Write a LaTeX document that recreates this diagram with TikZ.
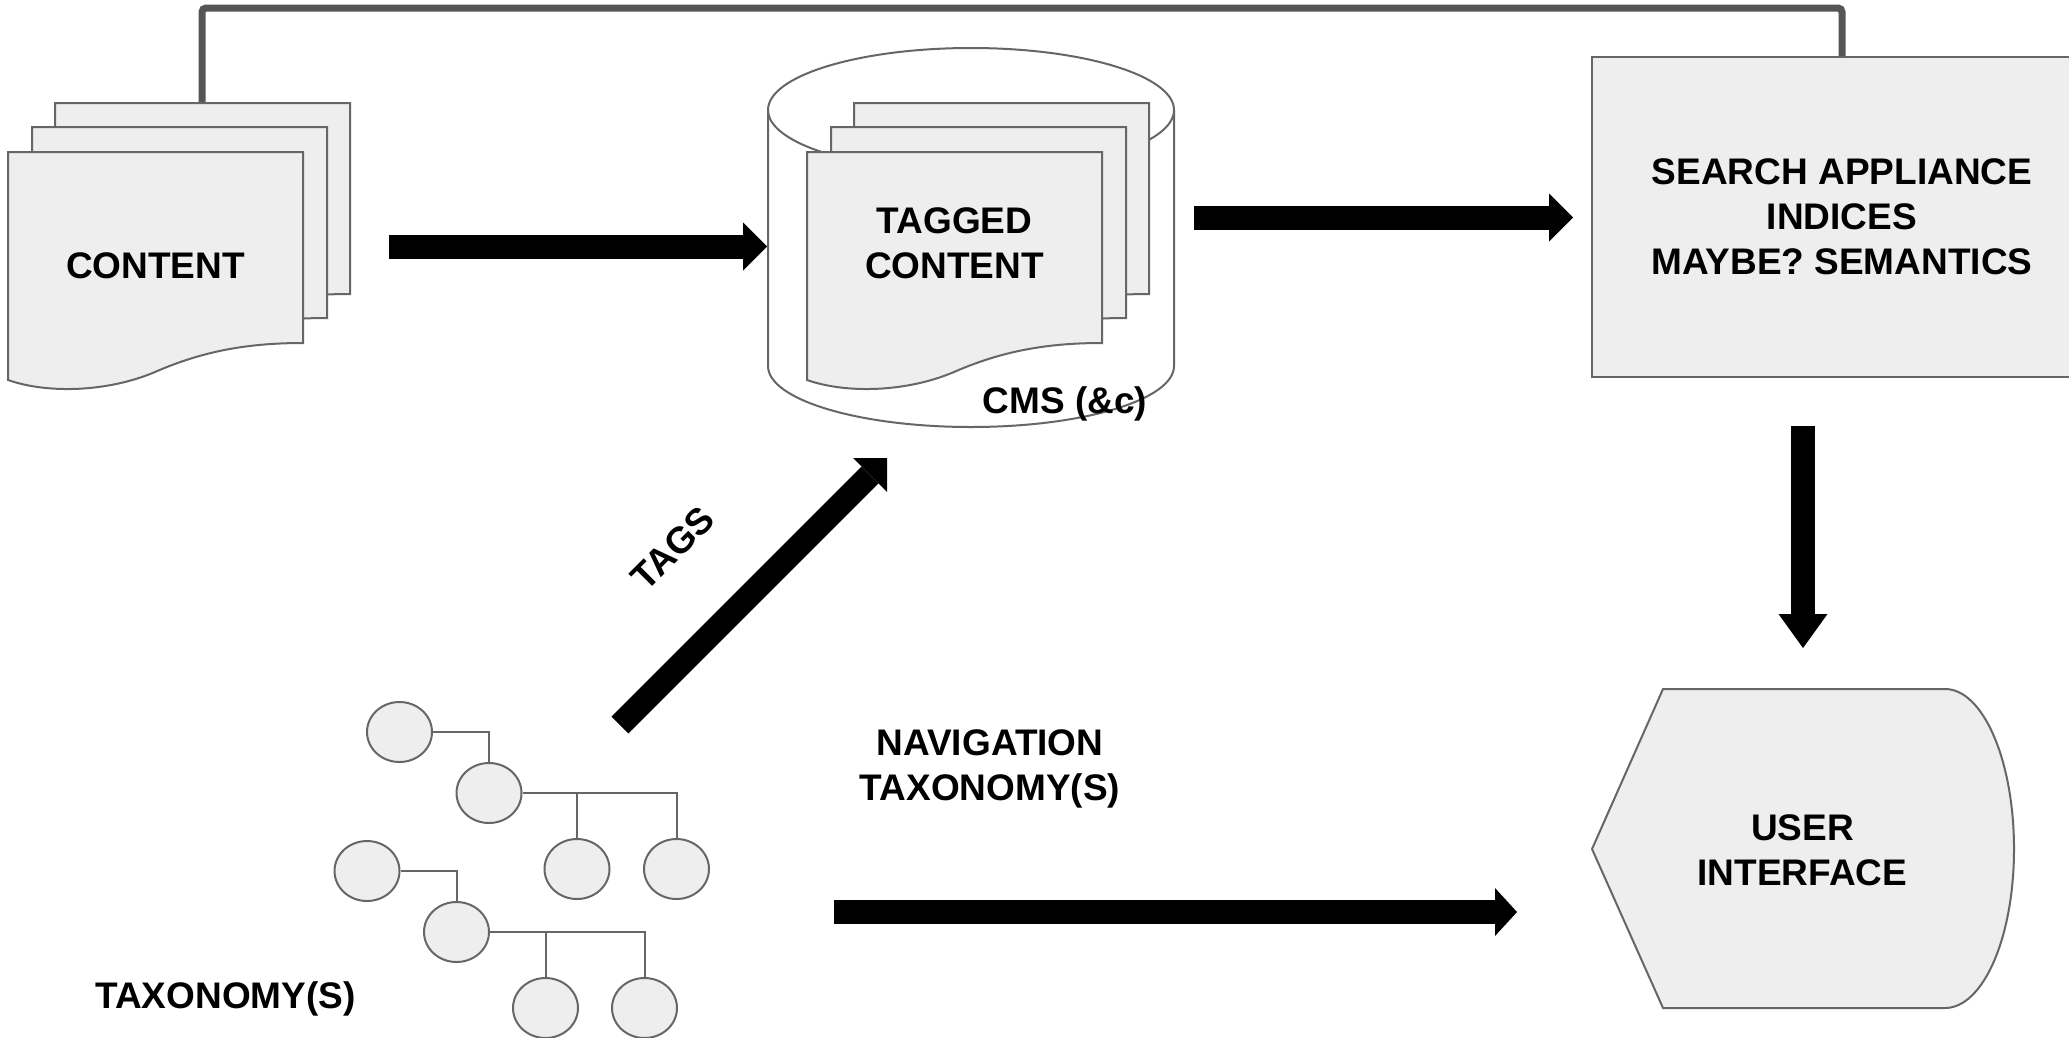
\documentclass[tikz,border=0pt]{standalone}
\usepackage{fontspec}
\setmainfont{Liberation Sans}
\usetikzlibrary{arrows.meta,shapes.geometric,calc}
\definecolor{pagefill}{HTML}{EEEEEE}
\definecolor{edge}{HTML}{666666}
\definecolor{wire}{HTML}{555555}
\begin{document}
\begin{tikzpicture}[x=1pt,y=-1pt,
  lbl/.style={font=\fontsize{37}{45}\selectfont\bfseries, align=center, inner sep=0pt},
  pagestyle/.style={draw=edge, fill=pagefill, line width=2pt},
  blk/.style={draw=black, line width=24pt, -{Triangle[length=24pt,width=48pt,line width=0pt]}},
  leaf/.style={ellipse, draw=edge, fill=pagefill, line width=2pt, minimum width=65pt, minimum height=60pt, inner sep=0pt},
  branch/.style={draw=edge, line width=2pt},
  topline/.style={draw=wire, line width=7pt, rounded corners=4pt},
  docpage/.pic={\path[pagestyle] (0,0) -- (295,0) -- (295,191) .. controls (240,191) and (195,199) .. (147,220) .. controls (100,240) and (40,242) .. (0,228) -- cycle;},
  docstack/.pic={\pic at (47,-49) {docpage}; \pic at (24,-25) {docpage}; \pic at (0,0) {docpage};}
]
\fill[white] (0,0) rectangle (2069,1037);
\useasboundingbox (0,0) rectangle (2069,1037);

% search box
\node[draw=edge, fill=pagefill, line width=2pt, minimum width=500pt, minimum height=320pt, lbl] (search) at (1842,217) {SEARCH APPLIANCE\\INDICES\\MAYBE? SEMANTICS};

% top connector
\coordinate (ctop) at (202,103);
\draw[topline] (ctop) -- (202,8) -| (search.north);

% content stack
\pic at (8,152) {docstack};
\node[lbl] (content) at (155.5,265.5) {CONTENT};

% CMS cylinder
\path[draw=edge, fill=white, line width=2pt] (768,110) -- (768,366) .. controls (768,399.7) and (858.9,427) .. (971,427) .. controls (1083.1,427) and (1174,399.7) .. (1174,366) -- (1174,110);
\draw[edge, line width=2pt] (971,110) ellipse [x radius=203pt, y radius=62pt];
\pic at (807,152) {docstack};
\node[lbl] (tagged) at (954.5,243) {TAGGED\\CONTENT};
\node[lbl] (cms) at (1065,404) {CMS (\&c)};

% user interface
\path[draw=edge, fill=pagefill, line width=2pt] (1592,849) -- (1663,689) -- (1945,689) .. controls (1983.1,689) and (2014,760.6) .. (2014,849) .. controls (2014,937.4) and (1983.1,1008) .. (1945,1008) -- (1663,1008) -- cycle;
\node[lbl] (ui) at (1802.5,850) {USER\\INTERFACE};

% taxonomy trees
\node[leaf] (t1) at (399.5,732) {};
\node[leaf] (t2) at (489,793) {};
\node[leaf] (t3) at (577,869) {};
\node[leaf] (t4) at (676.5,869) {};
\node[leaf] (t5) at (367,871) {};
\node[leaf] (t6) at (456.5,932) {};
\node[leaf] (t7) at (545.5,1008) {};
\node[leaf] (t8) at (644.5,1008) {};
\draw[branch] (t1.east) -| (t2.north);
\draw[branch] (t2.east) -| (t3.north);
\draw[branch] (t2.east) -| (t4.north);
\draw[branch] (t5.east) -| (t6.north);
\draw[branch] (t6.east) -| (t7.north);
\draw[branch] (t6.east) -| (t8.north);
\node[lbl] (tax) at (225.5,999) {TAXONOMY(S)};
\node[lbl] (nav) at (990,769) {NAVIGATION\\TAXONOMY(S)};
\node[lbl, rotate=45] (tags) at (673,548) {TAGS};

% block arrows
\coordinate (a1s) at (389,246.5); \coordinate (a1e) at (767,246.5);
\coordinate (a2s) at (1194,217.5); \coordinate (a2e) at (1573,217.5);
\coordinate (a3s) at (834,912); \coordinate (a3e) at (1517,912);
\coordinate (a4s) at (1803,426); \coordinate (a4e) at (1803,648);
\coordinate (a5s) at (620,725); \coordinate (a5e) at (887,458);
\draw[blk] (a1s) -- (a1e);
\draw[blk] (a2s) -- (a2e);
\draw[blk, -{Triangle[length=22pt,width=48pt,line width=0pt]}] (a3s) -- (a3e);
\draw[blk, -{Triangle[length=34pt,width=49pt,line width=0pt]}] (a4s) -- (a4e);
\draw[blk] (a5s) -- (a5e);
\end{tikzpicture}
\end{document}
